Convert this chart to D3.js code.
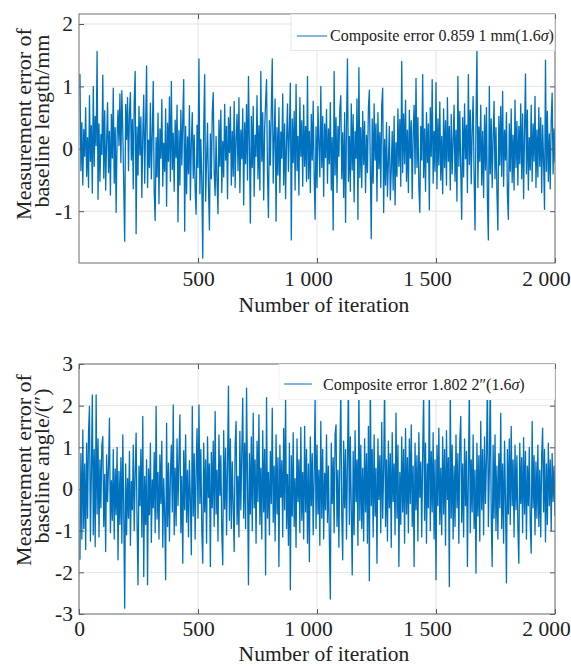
<!DOCTYPE html>
<html>
<head>
<meta charset="utf-8">
<script src="https://cdn.jsdelivr.net/npm/d3@7"></script>
<style>
body{margin:0;background:#fff}
svg{display:block}
text{font-family:"Liberation Serif","Times New Roman",Times,serif;fill:#222}
</style>
</head>
<body>
<svg id="chart" width="571" height="666"></svg>
<script>
// Baseline length measurement error (mm), one value every 4 iterations
const lengthError = [
1.20,-0.35,0.42,-0.58,0.31,-0.12,0.66,-0.44,0.18,-0.62,0.85,-0.20,0.37,-0.71,1.00,-0.28,0.52,0.05,1.56,-0.81,
0.40,-0.52,0.23,-0.09,1.18,-0.47,0.61,-0.66,0.12,0.74,-0.38,0.28,-0.74,0.55,-0.15,0.97,-0.55,0.34,-1.02,0.20,
0.62,0.05,0.88,-0.22,0.93,0.30,-0.60,-1.48,0.71,0.15,0.82,-0.35,0.58,0.90,-0.18,0.47,-0.64,0.76,1.24,-1.36,
0.35,-0.42,0.68,-0.10,0.51,-0.78,0.22,0.86,-0.55,0.40,1.33,-0.62,0.14,-0.30,0.73,-0.48,0.26,1.08,-0.70,-1.15,
0.18,-0.45,0.57,-0.88,0.32,-0.15,0.79,-0.60,0.09,-0.36,0.64,-0.92,0.41,-0.20,0.83,-0.52,1.08,-0.33,0.25,-0.68,
0.46,-0.14,0.70,-1.17,0.29,-0.58,0.62,-0.26,0.48,1.11,-1.32,0.36,-0.72,0.19,-0.40,0.69,-0.82,0.11,0.58,-0.47,
0.22,-0.66,-1.05,0.38,-0.30,1.44,-0.72,0.15,-0.55,-1.75,0.32,1.19,-0.84,-0.20,0.41,-0.62,-1.30,0.24,-0.48,0.58,
0.90,-0.38,-0.75,0.20,-0.52,-1.04,0.46,-0.28,0.62,-0.70,0.12,-0.45,0.71,-0.18,0.36,-0.80,0.50,-0.06,0.67,-0.58,
0.28,-0.44,0.76,-0.62,0.15,0.55,-0.35,0.82,-0.70,0.30,-0.16,0.64,-0.90,0.42,-0.24,0.71,-0.50,1.16,0.08,-1.19,
0.52,-0.30,0.68,-0.76,0.22,-0.12,0.85,-0.48,0.37,-0.66,1.24,-0.20,0.58,-0.82,0.33,0.74,1.11,-0.40,-1.10,0.45,
-0.26,0.62,1.44,-0.55,0.18,0.80,-1.16,0.34,-0.42,0.66,-0.70,0.27,-0.15,0.88,-0.58,0.40,-0.80,0.13,0.72,-0.36,
0.30,1.05,-1.46,0.48,-0.22,0.60,-0.66,1.03,-0.35,0.20,-0.74,0.82,-0.12,0.45,-0.60,0.70,-0.28,0.36,-0.52,1.16,
-0.48,0.28,-0.70,0.55,-0.18,0.76,-0.40,-1.13,0.35,-0.62,0.68,0.10,-0.45,1.00,-0.30,0.52,-0.76,0.40,-0.14,0.63,
-0.55,0.32,-0.24,0.74,-0.66,0.18,-1.30,1.24,-0.42,0.50,-0.70,0.36,-0.12,0.65,0.85,-0.48,0.26,-0.78,0.58,-1.18,
0.40,1.44,-0.52,0.20,-0.68,0.72,-0.34,0.55,-0.85,0.28,-0.15,0.80,-1.13,1.30,-0.46,0.34,-0.62,0.60,-0.25,0.44,
-0.70,0.22,-0.38,0.66,0.94,-0.30,-1.44,0.48,-0.55,0.72,-0.18,0.40,-0.84,0.58,-0.32,0.26,-0.62,0.70,0.97,-1.02,
0.15,-0.58,0.42,-0.76,-0.20,0.36,-0.82,-0.35,0.28,-0.66,0.52,-0.90,0.10,-0.44,0.64,-0.28,0.47,-0.60,1.40,-0.38,
0.56,-0.24,0.78,-0.52,0.30,-0.70,0.62,-0.15,0.45,-0.80,0.24,0.70,-0.40,1.13,-0.30,0.50,-0.62,-1.02,0.36,-0.18,
1.19,-0.46,0.32,-0.68,0.58,-0.22,0.40,-0.98,0.66,-0.12,1.11,-0.55,0.28,-0.36,1.06,-0.64,0.48,-0.26,0.75,-0.50,
0.20,-0.72,0.64,-0.30,0.45,-0.58,0.82,-0.20,0.36,-0.66,0.55,-0.40,0.12,0.70,-0.52,0.30,-0.84,1.16,-0.28,0.60,
-0.34,-1.13,0.50,-0.45,0.72,-0.16,0.38,-0.70,1.19,-0.25,0.62,-0.56,0.30,0.84,-0.42,-1.30,0.46,1.60,-0.62,0.35,
-0.20,0.70,-0.58,0.28,-0.78,0.54,-0.34,0.66,-0.82,-1.46,1.00,-0.40,0.48,-0.62,0.20,0.76,-0.48,0.34,-0.70,-1.30,
0.52,-0.26,0.68,-0.44,0.92,-0.60,0.30,-0.18,0.58,-0.72,-1.13,0.40,-0.36,0.64,-0.54,0.22,-0.66,0.78,-0.30,0.44,
-0.58,0.36,-0.24,0.72,-0.48,0.56,-0.80,0.28,1.20,-0.40,0.62,-0.66,0.18,-0.34,0.70,-0.52,0.40,-0.20,0.84,-0.62,
0.30,-0.45,0.66,-0.28,0.50,-0.70,0.38,-0.18,-0.97,1.42,-0.36,0.60,-0.52,0.24,-0.64,0.46,0.89,-0.40,0.32,-0.22
];

// Baseline angle measurement error ("), one value every 4 iterations
const angleError = [
-1.70,0.85,-1.20,1.42,-0.95,0.60,-1.45,1.10,-0.70,1.35,1.98,-1.25,0.40,2.26,-1.10,0.95,-1.38,2.26,-0.60,1.20,
-1.15,0.70,-0.45,1.05,1.26,-0.90,0.35,-1.50,0.82,-0.30,0.55,1.70,-1.05,0.20,-0.75,0.95,-1.20,0.48,-0.62,1.00,
-1.70,0.42,-0.85,0.75,-1.30,1.30,-0.55,-2.86,0.60,-1.10,0.25,-0.70,0.90,-1.35,0.18,-0.50,1.05,-1.00,0.38,1.34,
-0.80,-2.30,0.55,-0.40,0.95,-1.15,1.74,-2.10,0.30,-0.85,0.70,-2.30,0.48,-0.62,1.10,-1.28,0.22,-0.45,0.88,-1.05,
1.98,-0.72,0.40,-1.20,0.82,-0.35,1.15,-1.40,0.25,-0.60,-2.18,1.58,-0.90,0.62,-1.25,0.35,1.05,-0.55,2.02,-1.10,
0.50,-0.88,1.20,-0.40,0.75,1.78,-1.05,0.30,-1.78,0.92,-0.50,1.30,-0.80,0.45,-1.15,0.68,-0.28,-1.58,1.98,-0.65,
0.85,-1.20,0.40,1.45,-0.70,2.02,-0.35,0.95,-1.00,-1.78,1.10,-0.55,0.70,-1.30,1.25,-0.20,0.60,-1.86,0.88,-0.45,
1.15,-0.90,1.86,-0.60,0.45,-1.25,1.30,-0.15,0.80,-1.05,-1.82,1.40,-0.48,0.98,-1.10,0.55,2.47,-0.75,1.20,-0.95,
0.65,-0.40,-1.50,1.05,1.62,-0.85,0.30,-1.15,1.38,-0.50,0.90,2.18,-0.70,1.10,-0.95,2.42,0.20,-2.30,0.85,-0.60,
1.25,-1.00,1.82,-0.45,0.70,-1.30,1.15,-0.30,1.78,-0.85,0.50,-1.20,1.40,-0.55,0.95,-2.06,2.19,-0.70,0.40,-1.10,
0.90,-0.35,1.94,-0.80,0.55,-1.25,1.30,-0.60,0.75,-1.86,1.05,-0.20,0.68,-1.15,1.45,-0.50,2.14,-0.95,0.35,-1.35,
1.10,-2.42,0.80,-0.65,1.35,-0.90,0.25,-1.40,1.20,-0.30,0.70,-1.05,1.48,-0.75,0.40,-1.20,1.50,-0.55,0.95,-1.30,
0.60,-1.74,1.25,-0.40,0.85,-1.10,0.30,2.14,-0.95,1.05,-0.60,0.45,-1.35,1.62,-0.70,0.95,-1.20,0.38,-0.50,1.30,
-0.80,0.55,-1.25,-2.64,1.10,-0.35,0.75,-1.05,1.30,1.54,-0.90,0.45,-1.40,0.80,2.35,-0.60,-1.70,1.15,-0.45,0.95,
-1.20,0.65,2.60,-0.85,1.25,-0.50,-2.06,0.90,-1.10,1.40,-0.30,0.70,-1.35,2.40,-0.75,1.05,-0.95,0.50,-1.25,1.20,
-0.55,0.85,-1.30,1.50,-2.20,2.70,-0.40,0.95,-1.15,1.30,-0.65,0.50,-1.78,1.20,-0.25,0.80,-1.05,1.60,-0.70,0.45,
2.50,-0.90,0.70,-1.25,1.15,-0.45,0.85,-1.40,1.35,-0.30,0.60,-1.10,1.82,-0.70,1.05,-1.86,0.40,-0.85,1.25,-0.55,
0.95,-1.30,1.45,-0.60,0.75,-1.05,1.20,-0.35,1.54,-0.90,0.55,-1.86,1.10,-0.50,0.80,-1.25,1.35,-0.20,0.65,-1.15,
0.85,2.30,-0.75,1.10,-1.30,0.60,-0.45,2.55,-1.00,0.90,-0.55,1.35,-1.20,0.70,-2.18,1.05,-0.40,1.46,-0.85,0.50,
-1.10,1.25,-0.60,0.95,-1.35,1.40,-0.25,0.75,-2.34,2.45,-0.70,1.05,-1.20,0.55,-0.90,1.30,-0.45,0.85,-1.30,1.15,
1.74,-0.80,0.60,-1.15,1.20,-0.40,0.90,-1.86,0.35,2.35,-1.05,0.70,-0.55,1.30,-0.95,0.45,-2.02,1.10,-0.65,0.80,
-1.25,1.62,-0.50,0.95,-1.10,1.25,-0.35,0.70,2.60,-0.90,0.40,2.75,-0.60,-1.86,1.05,-0.70,1.30,-1.00,0.55,-1.20,
0.85,-0.45,1.82,-0.95,0.60,-1.30,1.15,-0.30,-2.25,0.95,-0.60,1.20,-0.85,1.50,-0.40,0.70,-1.15,1.05,-0.50,0.80,
-0.95,-1.78,1.10,-0.35,0.75,-1.05,1.23,-0.60,0.90,-1.20,0.55,-0.40,1.00,-0.85,-1.54,1.62,-0.45,0.80,-1.10,0.65,
-0.70,1.05,-0.90,0.45,-1.15,0.80,1.46,-0.55,0.95,-1.27,0.60,-0.85,1.10,-0.40,0.70,-1.00,0.85,-0.30,0.55,-0.65
];

const xTicksTop = [500, 1000, 1500, 2000];
const xTicksBottom = [0, 500, 1000, 1500, 2000];
const yTicksTop = [-1, 0, 1, 2];
const yTicksBottom = [-3, -2, -1, 0, 1, 2, 3];
const legendTop = ["Composite error 0.859 1 mm(1.6", "σ", ")"];
const legendBottom = ["Composite error 1.802 2″(1.6", "σ", ")"];
const yTitleTop = ["Measurement error of", "baseline length/mm"];
const yTitleBottom = ["Measurement error of", "baseline angle/(″)"];
const xTitle = "Number of iteration";

const svg = d3.select("#chart");
const lineColor = "#0072BD";
const fmt = d => d >= 1000 ? d3.format(",")(d).replace(",", " ") : String(d);

function panel(cfg) {
  const L = 79, R = 555;
  const x = d3.scaleLinear().domain([0, 2000]).range([L, R]);
  const y = d3.scaleLinear().domain(cfg.yDomain).range([cfg.bottom, cfg.top]);
  const g = svg.append("g");
  const iters = d3.range(1, cfg.values.length + 1).map(i => i * 2000 / cfg.values.length);

  // grid
  g.append("g").selectAll("line").data(cfg.xTicks).join("line")
    .attr("x1", d => x(d)).attr("x2", d => x(d))
    .attr("y1", cfg.top).attr("y2", cfg.bottom)
    .attr("stroke", "#e4e4e4").attr("stroke-width", 1);
  g.append("g").selectAll("line").data(cfg.yTicks).join("line")
    .attr("y1", d => y(d)).attr("y2", d => y(d))
    .attr("x1", L).attr("x2", R)
    .attr("stroke", "#e4e4e4").attr("stroke-width", 1);

  // data line
  const clipId = "clip" + cfg.id;
  g.append("clipPath").attr("id", clipId).append("rect")
    .attr("x", L).attr("y", cfg.top).attr("width", R - L).attr("height", cfg.bottom - cfg.top);
  g.append("path")
    .datum(cfg.values)
    .attr("clip-path", `url(#${clipId})`)
    .attr("fill", "none")
    .attr("stroke", lineColor)
    .attr("stroke-width", 1.3)
    .attr("stroke-linejoin", "round")
    .attr("d", d3.line().x((d, i) => x(iters[i])).y(d => y(d)));

  // axes
  const styleAxis = sel => {
    sel.select(".domain").remove();
    sel.selectAll(".tick line").attr("stroke", "#555");
    sel.selectAll("text").attr("font-size", 21.5).attr("fill", "#222")
      .attr("font-family", '"Liberation Serif","Times New Roman",serif');
    sel.attr("font-family", null).attr("font-size", null);
  };
  const xAxis = g.append("g").attr("transform", `translate(0,${cfg.bottom})`)
    .call(d3.axisBottom(x).tickValues(cfg.xTicks).tickSize(-5).tickPadding(cfg.xPad).tickFormat(fmt))
    .call(styleAxis);
  xAxis.selectAll(".tick text").attr("dx", d => d >= 1000 ? -9 : 0);
  g.append("g").attr("transform", `translate(0,${cfg.top})`)
    .call(d3.axisTop(x).tickValues(cfg.xTicks).tickSize(-5).tickFormat(""))
    .call(styleAxis);
  g.append("g").attr("transform", `translate(${L},0)`)
    .call(d3.axisLeft(y).tickValues(cfg.yTicks).tickSize(-5).tickPadding(6).tickFormat(d => String(d)))
    .call(styleAxis);
  g.append("g").attr("transform", `translate(${R},0)`)
    .call(d3.axisRight(y).tickValues(cfg.yTicks).tickSize(-5).tickFormat(""))
    .call(styleAxis);

  // frame
  g.append("rect").attr("x", L).attr("y", cfg.top)
    .attr("width", R - L).attr("height", cfg.bottom - cfg.top)
    .attr("fill", "none").attr("stroke", "#6e6e6e").attr("stroke-width", 1);

  // legend
  const lg = cfg.legend;
  g.append("rect").attr("x", lg.x).attr("y", cfg.top + 0.5)
    .attr("width", R - 0.5 - lg.x).attr("height", lg.h)
    .attr("fill", "#fff").attr("stroke", lg.stroke).attr("stroke-width", 1);
  g.append("line").attr("x1", lg.lx1).attr("x2", lg.lx2)
    .attr("y1", lg.ly).attr("y2", lg.ly)
    .attr("stroke", lineColor).attr("stroke-width", 1);
  const t = g.append("text").attr("x", lg.tx).attr("y", lg.ty).attr("font-size", 16);
  t.append("tspan").text(cfg.legendText[0]);
  t.append("tspan").attr("font-style", "italic").text(cfg.legendText[1]);
  t.append("tspan").text(cfg.legendText[2]);

  // titles
  g.append("text").attr("x", cfg.xTitleX).attr("y", cfg.xTitleY)
    .attr("text-anchor", "middle").attr("font-size", 21.5).text(xTitle);
  cfg.yTitle.forEach((s, i) => {
    g.append("text")
      .attr("transform", `translate(${cfg.yTitleX[i]},${cfg.yTitleY[i]}) rotate(-90)`)
      .attr("text-anchor", "middle").attr("font-size", 22).text(s);
  });
}

panel({
  id: "top", values: lengthError, yDomain: [-1.83, 2.16], top: 14, bottom: 263,
  xTicks: xTicksTop, yTicks: yTicksTop, xPad: 8,
  legend: {x: 291, h: 36, stroke: "#e6e6e6", lx1: 297, lx2: 327, ly: 36, tx: 330, ty: 41},
  legendText: legendTop,
  xTitleX: 324, xTitleY: 312,
  yTitle: yTitleTop, yTitleX: [31, 49], yTitleY: [124, 121]
});
panel({
  id: "bottom", values: angleError, yDomain: [-3, 3], top: 364, bottom: 614,
  xTicks: xTicksBottom, yTicks: yTicksBottom, xPad: 7,
  legend: {x: 279, h: 35, stroke: "#f2f2f2", lx1: 284, lx2: 312, ly: 384, tx: 323, ty: 390},
  legendText: legendBottom,
  xTitleX: 324, xTitleY: 661,
  yTitle: yTitleBottom, yTitleX: [31, 49], yTitleY: [470, 466]
});
</script>
</body>
</html>
